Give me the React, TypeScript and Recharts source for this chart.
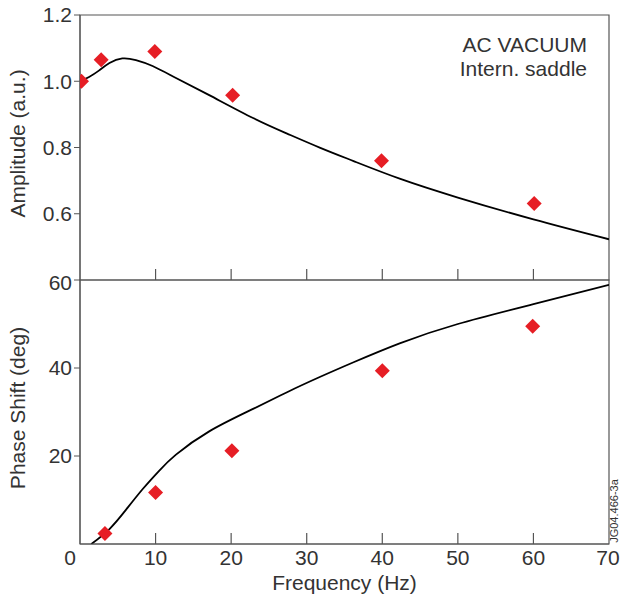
import React from "react";
import { ComposedChart, Line, Scatter, XAxis, YAxis, ReferenceArea } from "recharts";

// amplitude panel: fitted curve + measured points
const ampCurveFreq = [0, 1.2, 2.5, 3.9, 5.6, 7.4, 9.6, 12.7, 17.1, 22.9, 27.4, 31.8, 36.2, 42.3, 50, 60, 70];
const ampCurveVal = [1.0, 1.013, 1.032, 1.055, 1.069, 1.064, 1.046, 1.01, 0.958, 0.889, 0.842, 0.799, 0.759, 0.706, 0.649, 0.583, 0.523];
const ampPointFreq = [0.2, 2.8, 9.9, 20.2, 39.9, 60.1];
const ampPointVal = [1.0, 1.065, 1.09, 0.958, 0.76, 0.631];

// phase panel
const phaseCurveFreq = [1.5, 3.9, 6.1, 8.3, 10.5, 12.7, 17.1, 22.9, 27.4, 31.8, 36.2, 42.3, 50, 60, 70];
const phaseCurveVal = [0, 3.4, 7.8, 12.5, 16.7, 20.3, 25.6, 30.7, 34.5, 38.0, 41.3, 45.6, 50.0, 54.5, 58.9];
const phasePointFreq = [3.3, 10.0, 20.1, 40.0, 59.9];
const phasePointVal = [2.4, 11.7, 21.2, 39.4, 49.5];

const xTicks = [0, 10, 20, 30, 40, 50, 60, 70];
const ampTicks = [0.6, 0.8, 1.0, 1.2];
const phaseTicks = [20, 40, 60];

const FONT = "'Liberation Sans', Arial, sans-serif";
const FS = 21;
const TXT = "#333";
const AX = "#555";
const RED = "#e61e25";

const ampCurve = ampCurveFreq.map((f, i) => ({ f, a: ampCurveVal[i] }));
const ampPoints = ampPointFreq.map((f, i) => ({ f, a: ampPointVal[i] }));
const phaseCurve = phaseCurveFreq.map((f, i) => ({ f, p: phaseCurveVal[i] }));
const phasePoints = phasePointFreq.map((f, i) => ({ f, p: phasePointVal[i] }));

const Diamond = (props: any) => {
  const { cx, cy } = props;
  const r = 7.5;
  return <polygon points={`${cx},${cy - r} ${cx + r},${cy} ${cx},${cy + r} ${cx - r},${cy}`} fill={RED} />;
};

// inner tick marks pointing up into the plot, optional label below
const makeXTick = (showLabel: boolean) => (props: any) => {
  const { x, y, payload } = props;
  const v = payload.value;
  const inner = v > 0 && v < 70;
  return (
    <g>
      {inner && <line x1={x} x2={x} y1={y} y2={y - 11} stroke={AX} strokeWidth={1.2} />}
      {showLabel && (
        <text x={v === 0 ? x - 10 : v === 70 ? x - 1 : x} y={y + 21} textAnchor="middle" fontSize={FS} fill={TXT} fontFamily={FONT}>
          {v}
        </text>
      )}
    </g>
  );
};

const yTitle = (value: string) => (props: any) => {
  const vb = props.viewBox;
  const cy = vb.y + vb.height / 2 - 4;
  return (
    <text
      x={17}
      y={cy}
      transform={`rotate(-90 17 ${cy})`}
      textAnchor="middle"
      dominantBaseline="central"
      fontSize={FS}
      fill={TXT}
      fontFamily={FONT}
    >
      {value}
    </text>
  );
};

const yTick = { fontSize: FS, fill: TXT, fontFamily: FONT };

export default function App() {
  return (
    <div style={{ position: "absolute", left: 0, top: 0, width: 621, height: 596, background: "#fff", fontFamily: FONT }}>
      <div style={{ position: "absolute", left: 0, top: 0 }}>
        <ComposedChart width={621} height={290} margin={{ top: 15, right: 12, left: 0, bottom: 0 }}>
          <XAxis
            type="number"
            dataKey="f"
            domain={[0, 70]}
            ticks={xTicks}
            height={10}
            axisLine={false}
            tickLine={false}
            tickSize={0}
            tickMargin={0}
            tick={makeXTick(false)}
            allowDataOverflow
          />
          <YAxis
            type="number"
            dataKey="a"
            domain={[0.4, 1.2]}
            ticks={ampTicks}
            width={80}
            tick={yTick}
            tickFormatter={(v: number) => v.toFixed(1)}
            stroke={AX}
            tickLine={{ stroke: AX }}
            label={{ content: yTitle("Amplitude (a.u.)") }}
            allowDataOverflow
          />
          <ReferenceArea x1={0} x2={70} y1={0.4} y2={1.2} fill="none" stroke={AX} strokeWidth={1.2} />
          <Line data={ampCurve} dataKey="a" type="natural" stroke="#000" strokeWidth={1.8} dot={false} isAnimationActive={false} />
          <Scatter data={ampPoints} dataKey="a" shape={Diamond} isAnimationActive={false} />
          <text x={587} y={52} textAnchor="end" fontSize={FS} fill={TXT} fontFamily={FONT}>AC VACUUM</text>
          <text x={587} y={76} textAnchor="end" fontSize={FS} fill={TXT} fontFamily={FONT}>Intern. saddle</text>
        </ComposedChart>
      </div>
      <div style={{ position: "absolute", left: 0, top: 270 }}>
        <ComposedChart width={621} height={326} margin={{ top: 10, right: 12, left: 0, bottom: 0 }}>
          <XAxis
            type="number"
            dataKey="f"
            domain={[0, 70]}
            ticks={xTicks}
            height={52}
            stroke={AX}
            tickLine={false}
            tickSize={0}
            tickMargin={0}
            tick={makeXTick(true)}
            allowDataOverflow
            label={{ value: "Frequency (Hz)", position: "insideBottom", offset: 6, fontSize: FS, fill: TXT, fontFamily: FONT }}
          />
          <YAxis
            type="number"
            dataKey="p"
            domain={[0, 60]}
            ticks={phaseTicks}
            width={80}
            tick={yTick}
            stroke={AX}
            tickLine={{ stroke: AX }}
            label={{ content: yTitle("Phase Shift (deg)") }}
            allowDataOverflow
          />
          <ReferenceArea x1={0} x2={70} y1={0} y2={60} fill="none" stroke={AX} strokeWidth={1.2} />
          <Line data={phaseCurve} dataKey="p" type="natural" stroke="#000" strokeWidth={1.8} dot={false} isAnimationActive={false} />
          <Scatter data={phasePoints} dataKey="p" shape={Diamond} isAnimationActive={false} />
          <text
            x={614}
            y={241}
            transform="rotate(-90 614 241)"
            textAnchor="middle"
            dominantBaseline="central"
            fontSize={11}
            fill={TXT}
            fontFamily={FONT}
          >
            JG04.466-3a
          </text>
        </ComposedChart>
      </div>
    </div>
  );
}
